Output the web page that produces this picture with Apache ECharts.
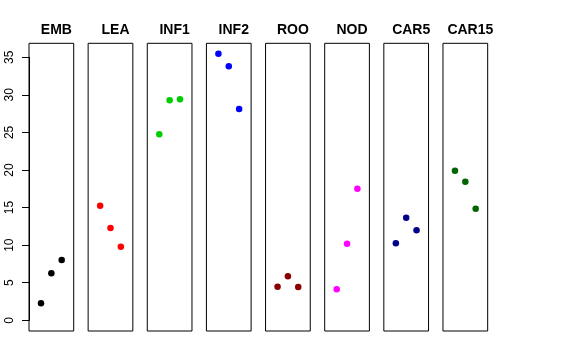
<!DOCTYPE html>
<html><head><meta charset="utf-8">
<script src="https://cdn.jsdelivr.net/npm/echarts@6/dist/echarts.min.js"></script>
<style>html,body{margin:0;padding:0;background:#fff}#c{width:576px;height:360px}</style>
</head><body><div id="c"></div>
<script>
const categories = ["EMB","LEA","INF1","INF2","ROO","NOD","CAR5","CAR15"];
const colors = ["#000000","#FF0000","#00CD00","#0000FF","#8B0000","#FF00FF","#00008B","#006400"];
const xPositions = [1,2,3];
const EMB = [2.26, 6.25, 8.02];
const LEA = [15.25, 12.28, 9.8];
const INF1 = [24.75, 29.28, 29.41];
const INF2 = [35.48, 33.8, 28.12];
const ROO = [4.47, 5.85, 4.43];
const NOD = [4.12, 10.2, 17.52];
const CAR5 = [10.24, 13.65, 11.98];
const CAR15 = [19.91, 18.45, 14.85];
const seriesValues = [EMB, LEA, INF1, INF2, ROO, NOD, CAR5, CAR15];
const yTicks = [0,5,10,15,20,25,30,35];

const yMin = -1.42, yMax = 36.86;
const panelTop = 43.3, panelH = 287.7;
const left0 = 29, step = 59.14, panelW = 44.7;

const grids = [], xAxes = [], yAxes = [], series = [], titles = [];
categories.forEach((cat, i) => {
  const l = left0 + i * step;
  grids.push({left: l, top: panelTop, width: panelW, height: panelH, show: true, borderColor: '#000', borderWidth: 1, backgroundColor: 'transparent'});
  xAxes.push({gridIndex: i, type: 'value', min: -0.16, max: 4.16, show: false});
  yAxes.push({gridIndex: i, type: 'value', min: yMin, max: yMax, show: false});
  series.push({type: 'scatter', xAxisIndex: i, yAxisIndex: i, symbolSize: 6.5,
    itemStyle: {color: colors[i], opacity: 1}, data: xPositions.map((x, k) => [x, seriesValues[i][k]]), silent: true});
  titles.push({text: cat, left: l + panelW / 2, top: 18, textAlign: 'center',
    textStyle: {fontFamily: 'Liberation Sans', fontWeight: 'bold', fontSize: 14, color: '#000'}});
});
const pxPerUnit = panelH / (yMax - yMin);
const axTop = panelTop + (yMax - yTicks[yTicks.length-1]) * pxPerUnit;
const axH = (yTicks[yTicks.length-1] - yTicks[0]) * pxPerUnit;
grids.push({left: left0, top: axTop, width: 1, height: axH, show: false});
xAxes.push({gridIndex: 8, type: 'value', min: 0, max: 1, show: false});
yAxes.push({gridIndex: 8, type: 'value', min: yTicks[0], max: yTicks[yTicks.length-1], interval: 5,
  axisLine: {show: true, lineStyle: {color: '#000', width: 1}},
  axisTick: {show: true, inside: false, length: 7, lineStyle: {color: '#000'}},
  splitLine: {show: false},
  axisLabel: {show: true, rotate: 90, margin: 13, fontFamily: 'Liberation Sans', fontSize: 12, color: '#000'}});

const chart = echarts.init(document.getElementById('c'), null, {renderer: 'canvas'});
chart.setOption({animation: false, backgroundColor: '#fff', title: titles, grid: grids, xAxis: xAxes, yAxis: yAxes, series: series});
</script></body></html>
